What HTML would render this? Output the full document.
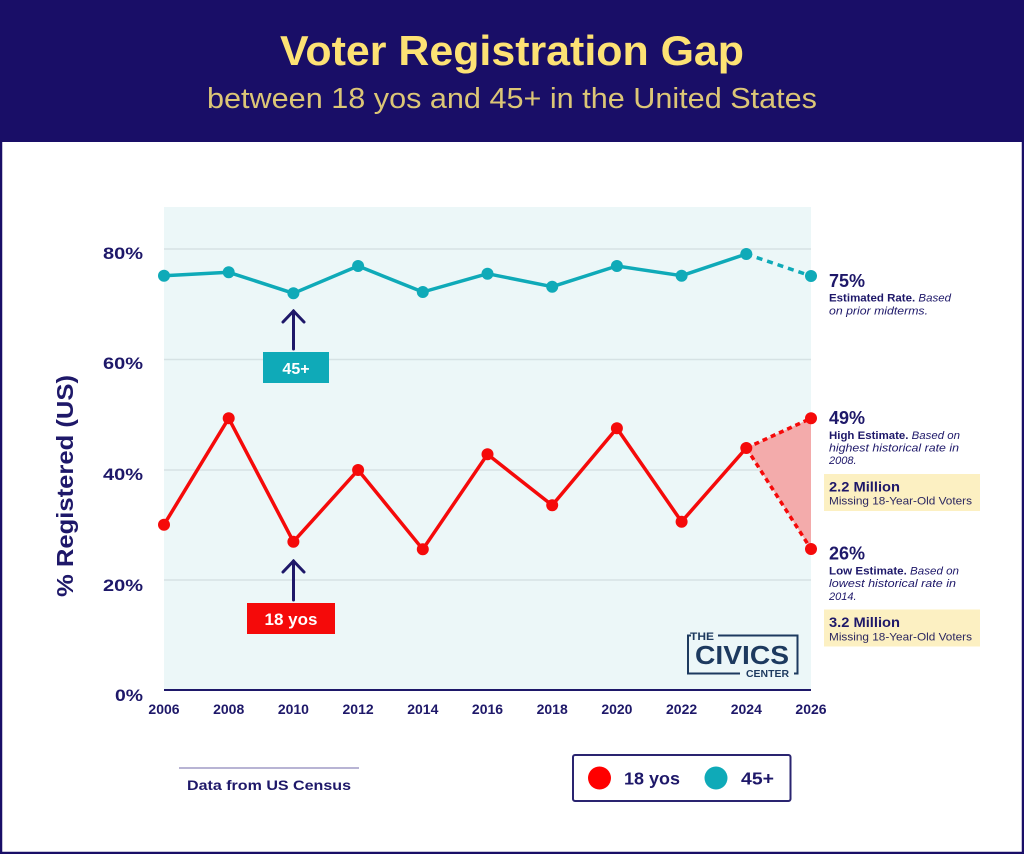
<!DOCTYPE html>
<html>
<head>
<meta charset="utf-8">
<style>
  html,body{margin:0;padding:0;background:#fff;}
  svg{display:block;}
  text{font-family:"Liberation Sans", sans-serif;}
</style>
</head>
<body>
<svg width="1024" height="854" viewBox="0 0 1024 854" xmlns="http://www.w3.org/2000/svg">
  <!-- page background & border -->
  <rect x="0" y="0" width="1024" height="854" fill="#ffffff"/>
  <rect x="1" y="1" width="1022" height="852" fill="none" stroke="#190e67" stroke-width="2.5"/>
  <!-- header -->
  <rect x="0" y="0" width="1024" height="142" fill="#190e67"/>
  <text x="512" y="65" text-anchor="middle" font-size="42" font-weight="bold" fill="#fde274" textLength="464" lengthAdjust="spacingAndGlyphs">Voter Registration Gap</text>
  <text x="512" y="108" text-anchor="middle" font-size="29" fill="#dcc676" textLength="610" lengthAdjust="spacingAndGlyphs">between 18 yos and 45+ in the United States</text>

  <!-- plot area -->
  <rect x="164" y="207" width="647" height="483" fill="#ecf7f8"/>
  <g stroke="#d6e2e4" stroke-width="1.5">
    <line x1="164" y1="249" x2="811" y2="249"/>
    <line x1="164" y1="359.5" x2="811" y2="359.5"/>
    <line x1="164" y1="470" x2="811" y2="470"/>
    <line x1="164" y1="580" x2="811" y2="580"/>
  </g>
  <line x1="164" y1="690" x2="811" y2="690" stroke="#1e1869" stroke-width="2"/>

  <!-- y ticks -->
  <g font-size="17" font-weight="bold" fill="#1e1869" text-anchor="end">
    <text x="143" y="259" textLength="40" lengthAdjust="spacingAndGlyphs">80%</text>
    <text x="143" y="369" textLength="40" lengthAdjust="spacingAndGlyphs">60%</text>
    <text x="143" y="480" textLength="40" lengthAdjust="spacingAndGlyphs">40%</text>
    <text x="143" y="591" textLength="40" lengthAdjust="spacingAndGlyphs">20%</text>
    <text x="143" y="701" textLength="28" lengthAdjust="spacingAndGlyphs">0%</text>
  </g>
  <!-- y title -->
  <text transform="translate(73,486) rotate(-90)" text-anchor="middle" font-size="23" font-weight="bold" fill="#1e1869" textLength="222" lengthAdjust="spacingAndGlyphs">% Registered (US)</text>

  <!-- x ticks -->
  <g font-size="14" font-weight="bold" fill="#1e1869" text-anchor="middle">
    <text x="164" y="714">2006</text>
    <text x="228.7" y="714">2008</text>
    <text x="293.4" y="714">2010</text>
    <text x="358.1" y="714">2012</text>
    <text x="422.8" y="714">2014</text>
    <text x="487.5" y="714">2016</text>
    <text x="552.2" y="714">2018</text>
    <text x="616.9" y="714">2020</text>
    <text x="681.6" y="714">2022</text>
    <text x="746.3" y="714">2024</text>
    <text x="811" y="714">2026</text>
  </g>

  <!-- projection fill -->
  <polygon points="746.3,448 811,418.3 811,549" fill="#f3abab"/>

  <!-- teal series -->
  <polyline fill="none" stroke="#0faab8" stroke-width="3.5" stroke-linejoin="round"
    points="164,275.7 228.7,272.3 293.4,293.3 358.1,266 422.8,292 487.5,273.7 552.2,286.7 616.9,266 681.6,275.7 746.3,254"/>
  <line x1="746.3" y1="254" x2="811" y2="276" stroke="#0faab8" stroke-width="3.5" stroke-dasharray="6 5"/>
  <g fill="#0faab8">
    <circle cx="164" cy="275.7" r="6"/>
    <circle cx="228.7" cy="272.3" r="6"/>
    <circle cx="293.4" cy="293.3" r="6"/>
    <circle cx="358.1" cy="266" r="6"/>
    <circle cx="422.8" cy="292" r="6"/>
    <circle cx="487.5" cy="273.7" r="6"/>
    <circle cx="552.2" cy="286.7" r="6"/>
    <circle cx="616.9" cy="266" r="6"/>
    <circle cx="681.6" cy="275.7" r="6"/>
    <circle cx="746.3" cy="254" r="6"/>
    <circle cx="811" cy="276" r="6"/>
  </g>

  <!-- red series -->
  <polyline fill="none" stroke="#f50a0a" stroke-width="3.5" stroke-linejoin="round"
    points="164,524.7 228.7,418.3 293.4,541.7 358.1,470 422.8,549.3 487.5,454.3 552.2,505.3 616.9,428.3 681.6,521.7 746.3,448"/>
  <line x1="746.3" y1="448" x2="811" y2="418.3" stroke="#f50a0a" stroke-width="3.5" stroke-dasharray="5 4"/>
  <line x1="746.3" y1="448" x2="811" y2="549" stroke="#f50a0a" stroke-width="3.5" stroke-dasharray="5 4"/>
  <g fill="#f50a0a">
    <circle cx="164" cy="524.7" r="6"/>
    <circle cx="228.7" cy="418.3" r="6"/>
    <circle cx="293.4" cy="541.7" r="6"/>
    <circle cx="358.1" cy="470" r="6"/>
    <circle cx="422.8" cy="549.3" r="6"/>
    <circle cx="487.5" cy="454.3" r="6"/>
    <circle cx="552.2" cy="505.3" r="6"/>
    <circle cx="616.9" cy="428.3" r="6"/>
    <circle cx="681.6" cy="521.7" r="6"/>
    <circle cx="746.3" cy="448" r="6"/>
    <circle cx="811" cy="418.3" r="6"/>
    <circle cx="811" cy="549" r="6"/>
  </g>

  <!-- arrows and labels -->
  <g stroke="#1e1869" stroke-width="3" fill="none" stroke-linecap="round">
    <line x1="293.5" y1="311" x2="293.5" y2="349"/>
    <polyline points="283,322 293.5,311 304,322"/>
    <line x1="293.5" y1="561" x2="293.5" y2="600"/>
    <polyline points="283,572 293.5,561 304,572"/>
  </g>
  <rect x="263" y="352" width="66" height="31" fill="#0faab8"/>
  <text x="296" y="374" text-anchor="middle" font-size="16" font-weight="bold" fill="#ffffff">45+</text>
  <rect x="247" y="603" width="88" height="31" fill="#f50a0a"/>
  <text x="291" y="625" text-anchor="middle" font-size="17" font-weight="bold" fill="#ffffff">18 yos</text>

  <!-- right annotations -->
  <g fill="#1e1869">
    <text x="829" y="287" font-size="18" font-weight="bold">75%</text>
    <text x="829" y="301.5" font-size="11" textLength="122" lengthAdjust="spacingAndGlyphs"><tspan font-weight="bold">Estimated Rate.</tspan> <tspan font-style="italic">Based</tspan></text>
    <text x="829" y="314.5" font-size="11" font-style="italic" textLength="99" lengthAdjust="spacingAndGlyphs">on prior midterms.</text>

    <text x="829" y="424" font-size="18" font-weight="bold">49%</text>
    <text x="829" y="439" font-size="11" textLength="131" lengthAdjust="spacingAndGlyphs"><tspan font-weight="bold">High Estimate.</tspan> <tspan font-style="italic">Based on</tspan></text>
    <text x="829" y="451.5" font-size="11" font-style="italic" textLength="130" lengthAdjust="spacingAndGlyphs">highest historical rate in</text>
    <text x="829" y="464" font-size="11" font-style="italic">2008.</text>
  </g>
  <rect x="824" y="474" width="156" height="37" fill="#fcf0c2"/>
  <text x="829" y="491.5" font-size="14" font-weight="bold" fill="#1e1869" textLength="71" lengthAdjust="spacingAndGlyphs">2.2 Million</text>
  <text x="829" y="504.5" font-size="11" fill="#2a2660" textLength="143" lengthAdjust="spacingAndGlyphs">Missing 18-Year-Old Voters</text>

  <g fill="#1e1869">
    <text x="829" y="559.5" font-size="18" font-weight="bold">26%</text>
    <text x="829" y="574.5" font-size="11" textLength="130" lengthAdjust="spacingAndGlyphs"><tspan font-weight="bold">Low Estimate.</tspan> <tspan font-style="italic">Based on</tspan></text>
    <text x="829" y="587" font-size="11" font-style="italic" textLength="127" lengthAdjust="spacingAndGlyphs">lowest historical rate in</text>
    <text x="829" y="600" font-size="11" font-style="italic">2014.</text>
  </g>
  <rect x="824" y="609.5" width="156" height="37" fill="#fcf0c2"/>
  <text x="829" y="627" font-size="14" font-weight="bold" fill="#1e1869" textLength="71" lengthAdjust="spacingAndGlyphs">3.2 Million</text>
  <text x="829" y="640.5" font-size="11" fill="#2a2660" textLength="143" lengthAdjust="spacingAndGlyphs">Missing 18-Year-Old Voters</text>

  <!-- logo -->
  <g stroke="#1d3a5f" stroke-width="2" fill="none">
    <polyline points="691,635.5 688,635.5 688,673.5 740,673.5"/>
    <polyline points="718,635.5 797.5,635.5 797.5,673.5 794,673.5"/>
  </g>
  <g fill="#1d3a5f" font-weight="bold">
    <text x="690" y="640" font-size="11" textLength="24" lengthAdjust="spacingAndGlyphs">THE</text>
    <text x="695" y="664" font-size="26" textLength="94" lengthAdjust="spacingAndGlyphs">CIVICS</text>
    <text x="746" y="677" font-size="10.5" textLength="43" lengthAdjust="spacingAndGlyphs">CENTER</text>
  </g>

  <!-- footer source -->
  <line x1="179" y1="768" x2="359" y2="768" stroke="#8e88ba" stroke-width="1.2"/>
  <text x="187" y="790" font-size="14" font-weight="bold" fill="#1e1869" textLength="164" lengthAdjust="spacingAndGlyphs">Data from US Census</text>

  <!-- legend -->
  <rect x="573" y="755" width="217.5" height="46" rx="2" fill="#ffffff" stroke="#2a2470" stroke-width="2"/>
  <circle cx="599.5" cy="778" r="11.5" fill="#ff0000"/>
  <text x="624" y="784.5" font-size="17.5" font-weight="bold" fill="#1e1869" textLength="56" lengthAdjust="spacingAndGlyphs">18 yos</text>
  <circle cx="716" cy="778" r="11.5" fill="#0faab8"/>
  <text x="741" y="784.5" font-size="17.5" font-weight="bold" fill="#1e1869" textLength="33" lengthAdjust="spacingAndGlyphs">45+</text>
</svg>
</body>
</html>
